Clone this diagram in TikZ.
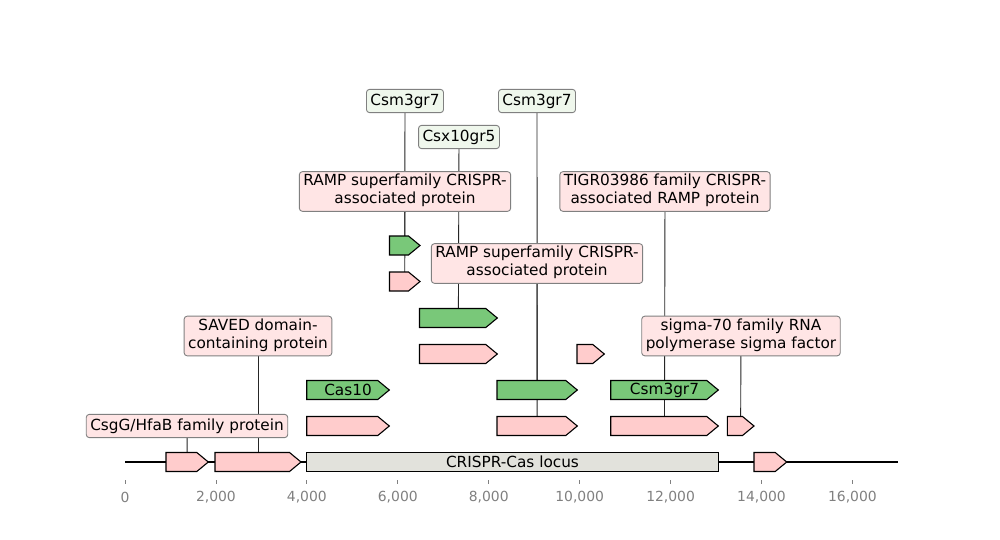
\documentclass[tikz,border=0pt]{standalone}
\usepackage{fontspec}
\setmainfont{DejaVu Sans}
\definecolor{genepink}{HTML}{FFCCCC}
\definecolor{genegreen}{HTML}{79C879}
\definecolor{boxpink}{HTML}{FFE5E5}
\definecolor{boxgreen}{HTML}{EFF7EC}
\definecolor{locusgray}{HTML}{E2E2DC}
\definecolor{tickgray}{HTML}{808080}
\pgfdeclarelayer{bg}
\pgfdeclarelayer{lines}
\pgfdeclarelayer{genes}
\pgfsetlayers{bg,lines,genes,main}
\newcommand\mystrut{\vrule height 13.2pt depth 4.8pt width 0pt}
\tikzset{
  lblbox/.style={draw=black!50, rounded corners=3pt, line width=0.9pt, inner xsep=4pt, inner ysep=2.6pt,
    align=center, font=\fontsize{15.3}{18}\selectfont, text=black,
    execute at begin node=\mystrut, execute at end node=\mystrut},
  pinkbox/.style={lblbox, fill=boxpink},
  greenbox/.style={lblbox, fill=boxgreen},
  genestyle/.style={draw=black, line width=1.1pt, line join=miter},
  genetext/.style={font=\fontsize{15.3}{18}\selectfont, inner sep=0pt},
  conn/.style={draw=black!85, line width=0.9pt},
  tickmark/.style={draw=tickgray, line width=0.8pt},
  ticklabel/.style={font=\fontsize{13.9}{16}\selectfont, text=tickgray, inner sep=0pt}
}
\newcommand\gene[5]{% name, x1, tip, yc, fill
  \draw[genestyle, fill=#5] (#2,#4-9.5) -- (#3-11.5,#4-9.5) -- (#3,#4) -- (#3-11.5,#4+9.5) -- (#2,#4+9.5) -- cycle;
  \coordinate (#1) at ({(#2+#3)/2},#4-9.5);
  \coordinate (#1c) at ({(#2+#3)/2},#4);
}
\begin{document}
\begin{tikzpicture}[x=1pt,y=-1pt]
\begin{pgfonlayer}{bg}
\fill[white] (0,0) rectangle (1000,540);
\end{pgfonlayer}
\useasboundingbox (0,0) rectangle (1000,540);
% labels
\node[greenbox] (lCsmA) at (405,101) {Csm3gr7};
\node[greenbox] (lCsmB) at (537,101) {Csm3gr7};
\node[greenbox] (lCsx) at (459,137) {Csx10gr5};
\node[pinkbox] (lRamp1) at (405,191.5) {RAMP superfamily CRISPR-\\associated protein};
\node[pinkbox] (lTigr) at (665,191.5) {TIGR03986 family CRISPR-\\associated RAMP protein};
\node[pinkbox] (lRamp2) at (537,263.5) {RAMP superfamily CRISPR-\\associated protein};
\node[pinkbox] (lSaved) at (258,336) {SAVED domain-\\containing protein};
\node[pinkbox] (lSigma) at (741,336) {sigma-70 family RNA\\polymerase sigma factor};
\node[pinkbox] (lCsgG) at (187,426) {CsgG/HfaB family protein};
% genes
\begin{pgfonlayer}{genes}
\draw[line width=1.8pt] (125,462) coordinate (axL) -- (898,462) coordinate (axR);
\gene{gA}{166}{208.3}{462}{genepink}
\gene{gB}{215}{301}{462}{genepink}
\draw[genestyle, fill=locusgray] (306.7,452.5) rectangle (718.3,471.5);
\node[genetext] (locus) at (512.5,462) {CRISPR-Cas locus};
\gene{gC}{754}{786.7}{462}{genepink}
\gene{r1a}{306.7}{389.3}{426}{genepink}
\gene{r1b}{497}{577.3}{426}{genepink}
\gene{r1c}{610.7}{718.3}{426}{genepink}
\gene{r1d}{727.3}{754}{426}{genepink}
\gene{r2a}{306.7}{389.3}{390}{genegreen}
\node[genetext] (tCas) at (r2ac) {Cas10};
\gene{r2b}{497}{577.3}{390}{genegreen}
\gene{r2c}{610.7}{718.3}{390}{genegreen}
\node[genetext] (tCsm) at (r2cc) {Csm3gr7};
\gene{r3a}{419.5}{497.3}{354}{genepink}
\gene{r3b}{577}{604.3}{354}{genepink}
\gene{r4a}{419.5}{497.3}{318}{genegreen}
\gene{r5a}{389.5}{420}{281.5}{genepink}
\gene{r6a}{389.5}{420}{245.5}{genegreen}
\end{pgfonlayer}
% connectors
\begin{pgfonlayer}{lines}
\draw[conn] (lCsgG.center) -- (gA);
\draw[conn] (lSaved.center) -- (gB);
\draw[conn] (lCsmA.center) -- (r6a);
\draw[conn] (lRamp1.center) -- (r5a);
\draw[conn] (lCsx.center) -- (r4a);
\draw[conn] (lCsmB.center) -- (r2b);
\draw[conn] (lRamp2.center) -- (r1b);
\draw[conn] (lTigr.center) -- (r1c);
\draw[conn] (lSigma.center) -- (r1d);
\end{pgfonlayer}
% axis ticks
\foreach \k/\t in {0/0,1/{2,000},2/{4,000},3/{6,000},4/{8,000},5/{10,000},6/{12,000},7/{14,000},8/{16,000}}{
  \draw[tickmark] ({125+\k*90.93},480) -- ({125+\k*90.93},484);
  \node[ticklabel] at ({125+\k*90.93},497) {\t};
}
\end{tikzpicture}
\end{document}
